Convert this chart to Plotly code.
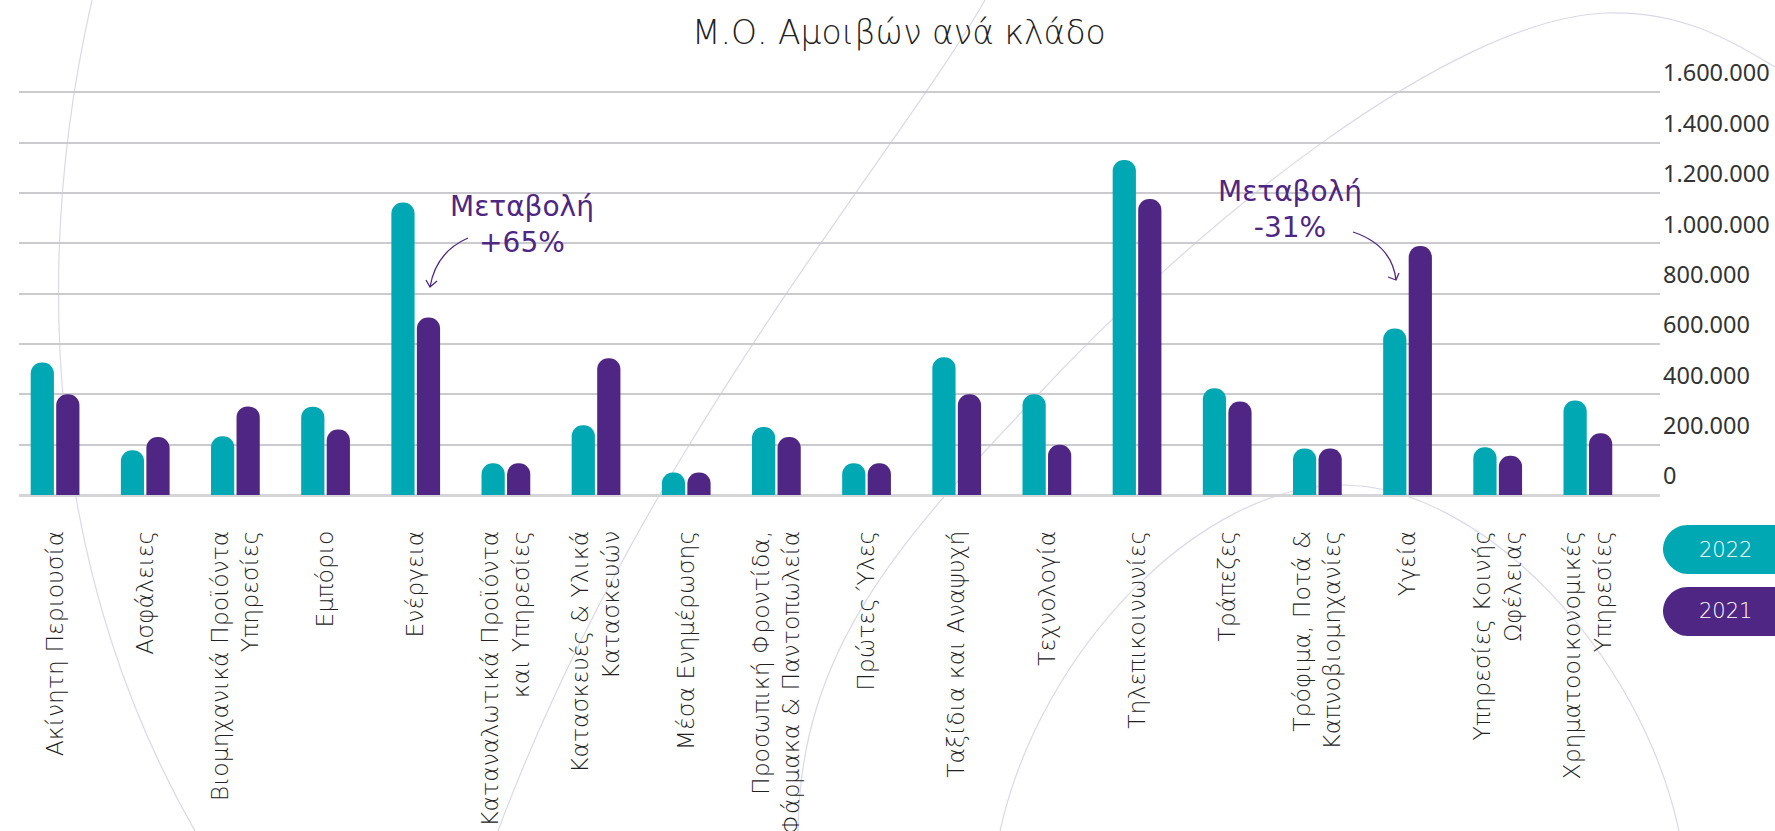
import plotly.graph_objects as go

categories = [
    "Ακίνητη Περιουσία", "Ασφάλειες", "Βιομηχανικά Προϊόντα<br>Υπηρεσίες", "Εμπόριο",
    "Ενέργεια", "Καταναλωτικά Προϊόντα<br>και Υπηρεσίες", "Κατασκευές & Υλικά<br>Κατασκευών",
    "Μέσα Ενημέρωσης", "Προσωπική Φροντίδα,<br>Φάρμακα & Παντοπωλεία", "Πρώτες Ύλες",
    "Ταξίδια και Αναψυχή", "Τεχνολογία", "Τηλεπικοινωνίες", "Τράπεζες",
    "Τρόφιμα, Ποτά &<br>Καπνοβιομηχανίες", "Υγεία", "Υπηρεσίες Κοινής<br>Ωφέλειας",
    "Χρηματοοικονομικές<br>Υπηρεσίες",
]
values_2022 = [526000, 178000, 233000, 351000, 1162000, 126000, 277000, 89000, 270000,
               126000, 547000, 400000, 1331000, 424000, 185000, 661000, 190000, 375000]
values_2021 = [400000, 230000, 352000, 260000, 705000, 126000, 543000, 89000, 230000,
               126000, 400000, 200000, 1176000, 371000, 185000, 989000, 156000, 245000]
series_names = ["2022", "2021"]
y_ticks = [0, 200000, 400000, 600000, 800000, 1000000, 1200000, 1400000, 1600000]
title_text = "Μ.Ο. Αμοιβών ανά κλάδο"
note_left = "Μεταβολή<br>+65%"
note_right = "Μεταβολή<br>-31%"

TEAL = "#00A8B4"
PURPLE = "#4F2683"
CURVE = "#DAD8EA"
GEO = "DejaVu Sans"

W, H = 1775, 831
ML, MR, MT, MB = 19, 115, 91, 336
PW = W - ML - MR
PH = H - MT - MB
Y_TOP = 1605000


def px(x):
    return (x - ML) / PW


def py(y):
    return (H - MB - y) / PH


def path(cmds):
    out = []
    for c in cmds:
        if isinstance(c, str):
            out.append(c)
        else:
            out.append(f"{px(c[0]):.5f},{py(c[1]):.5f}")
    return " ".join(out)


fig = go.Figure()
fig.add_trace(go.Bar(x=categories, y=values_2022, name=series_names[0],
                     marker=dict(color=TEAL, line=dict(width=0))))
fig.add_trace(go.Bar(x=categories, y=values_2021, name=series_names[1],
                     marker=dict(color=PURPLE, line=dict(width=0))))

shapes = []
# decorative background curves
curves = [
    ["M", (92, 0), "C", (35, 250), (40, 560), (195, 831)],
    ["M", (985, 0), "C", (900, 150), (640, 450), (498, 831)],
    ["M", (798, 831), "C", (800, 650), (900, 540), (1033, 400),
     "C", (1200, 220), (1450, 20), (1605, 13), "C", (1680, 10), (1730, 40), (1775, 67)],
    ["M", (1000, 831), "C", (1040, 650), (1200, 485), (1342, 485),
     "C", (1480, 485), (1640, 650), (1679, 831)],
]
for c in curves:
    shapes.append(dict(type="path", xref="paper", yref="paper", path=path(c),
                       line=dict(color=CURVE, width=1.2), layer="below"))

# annotation arrows
arrows = [
    ["M", (468, 238), "Q", (436, 252), (430, 287),
     "M", (426, 280), "L", (430, 287), "L", (437, 281)],
    ["M", (1353, 232), "Q", (1392, 245), (1396, 280),
     "M", (1388, 277), "L", (1396, 280), "L", (1399, 273)],
]
for a in arrows:
    shapes.append(dict(type="path", xref="paper", yref="paper", path=path(a),
                       line=dict(color=PURPLE, width=1.3)))


def pill(x0, y0, x1, y1, color):
    r = (y1 - y0) / 2
    return dict(type="path", xref="paper", yref="paper", fillcolor=color,
                line=dict(width=0),
                path=path(["M", (x0 + r, y0), "L", (x1, y0), "L", (x1, y1), "L", (x0 + r, y1),
                           "C", (x0 + r * 0.45, y1), (x0, y1 - r * 0.55), (x0, y0 + r),
                           "C", (x0, y0 + r * 0.45), (x0 + r * 0.45, y0), (x0 + r, y0), "Z"]))


shapes.append(pill(1663, 525, 1800, 574, TEAL))
shapes.append(pill(1663, 587, 1800, 636, PURPLE))

annotations = [
    dict(text=title_text, x=px(899), y=py(32), xref="paper", yref="paper",
         showarrow=False, xanchor="center", yanchor="middle",
         font=dict(family=GEO, size=33, color="#222222", weight=200)),
    dict(text=note_left, x=px(522), y=py(225), xref="paper", yref="paper",
         showarrow=False, xanchor="center", yanchor="middle",
         font=dict(family=GEO, size=28, color=PURPLE)),
    dict(text=note_right, x=px(1290), y=py(209), xref="paper", yref="paper",
         showarrow=False, xanchor="center", yanchor="middle",
         font=dict(family=GEO, size=28, color=PURPLE)),
    dict(text=series_names[0], x=px(1725), y=py(550), xref="paper", yref="paper",
         showarrow=False, xanchor="center", yanchor="middle",
         font=dict(family=GEO, size=21, color="white", weight=300)),
    dict(text=series_names[1], x=px(1725), y=py(611), xref="paper", yref="paper",
         showarrow=False, xanchor="center", yanchor="middle",
         font=dict(family=GEO, size=21, color="white", weight=300)),
]

fig.update_layout(
    width=W, height=H,
    margin=dict(l=ML, r=MR, t=MT, b=MB, pad=0, autoexpand=False),
    paper_bgcolor="white", plot_bgcolor="rgba(0,0,0,0)",
    barmode="group", bargap=0.434, bargroupgap=0.09,
    barcornerradius="50%",
    showlegend=False,
    separators=",.",
    shapes=shapes,
    annotations=annotations,
    font=dict(family=GEO, color="#222222"),
)
fig.update_xaxes(
    type="category", range=[-0.40, 17.80], automargin=False,
    tickangle=-90, ticks="", showgrid=False, showline=False, zeroline=False,
    tickfont=dict(family=GEO, size=23.5, color="#222222", weight=200),
    ticklabelstandoff=30,
)
fig.update_yaxes(
    side="right", range=[0, Y_TOP], tickvals=y_ticks, tickformat=",d", automargin=False,
    showgrid=True, gridcolor="#CACACF", gridwidth=1.5,
    zeroline=True, zerolinecolor="#D6D6D9", zerolinewidth=2.5,
    showline=False, ticks="", ticklen=0,
    tickfont=dict(family="Noto Sans", size=23.5, color="#333333"),
    ticklabelshift=-19, ticklabelstandoff=2,
)

fig.write_html("out.html", config={"displayModeBar": False},
               post_script="document.body.style.margin='0px';")
